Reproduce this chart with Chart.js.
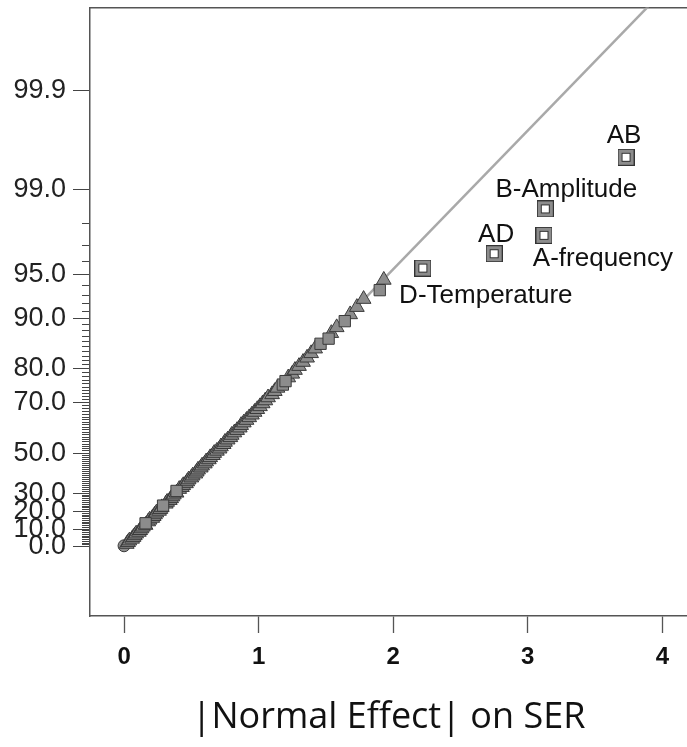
<!DOCTYPE html>
<html>
<head>
<meta charset="utf-8">
<script src="https://cdn.jsdelivr.net/npm/chart.js@4.4.1/dist/chart.umd.min.js"></script>
<style>
  html, body { margin: 0; padding: 0; background: #ffffff; }
  #c { display: block; }
</style>
</head>
<body>
<canvas id="c" width="687" height="747"></canvas>
<script>
// ---------------- DATA ----------------
// Half-normal plot: x = |effect|, y = half-normal probability (%)
const circleEffects  = [0.00];
const circlePercents = [0.50];

// error-estimate terms (triangles)
const errorEffects = [
  0.02,0.03,0.04,0.06,0.07,0.08,0.09,0.11,0.12,0.13,0.14,0.16,
  0.18,0.19,0.21,0.22,0.23,0.24,0.26,0.27,0.28,
  0.31,0.32,0.34,0.35,0.36,0.37,0.39,
  0.41,0.43,0.44,0.46,0.47,0.48,0.50,0.51,0.53,0.54,0.55,0.57,0.58,0.60,0.61,0.63,0.64,0.66,
  0.67,0.69,0.71,0.72,0.74,0.75,0.77,0.79,0.80,0.82,0.84,0.86,0.87,0.89,0.91,0.93,0.95,0.97,
  0.99,1.01,1.03,1.05,1.07,1.10,1.12,1.14,
  1.22,1.25,1.27,1.30,1.33,1.36,1.39,1.42,
  1.54,1.58,
  1.68,1.73,1.78,
  1.93
];
const errorPercents = [
  1.49,2.48,3.47,4.46,5.45,6.44,7.43,8.42,9.41,10.40,11.39,12.38,
  14.36,15.35,16.34,17.33,18.32,19.31,20.30,21.29,22.28,
  24.26,25.25,26.24,27.23,28.22,29.21,30.20,
  32.18,33.17,34.16,35.15,36.14,37.13,38.12,39.11,40.10,41.09,42.08,43.07,44.06,45.05,46.04,47.03,48.02,49.01,
  50.00,50.99,51.98,52.97,53.96,54.95,55.94,56.93,57.92,58.91,59.90,60.89,61.88,62.87,63.86,64.85,65.84,66.83,
  67.82,68.81,69.80,70.79,71.78,72.77,73.76,74.75,
  77.72,78.71,79.70,80.69,81.68,82.67,83.66,84.65,
  87.62,88.61,
  90.59,91.58,92.57,
  94.55
];

// non-significant model terms (grey squares)
const modelEffects  = [0.16, 0.29, 0.39, 1.18, 1.20, 1.46, 1.52, 1.64, 1.90];
const modelPercents = [13.37, 23.27, 31.19, 75.74, 76.73, 85.64, 86.63, 89.60, 93.56];

// significant, labelled terms (open squares)
const sigLabels   = ['D-Temperature', 'AD', 'A-frequency', 'B-Amplitude', 'AB'];
const sigEffects  = [2.22, 2.75, 3.12, 3.13, 3.73];
const sigPercents = [95.54, 96.53, 97.52, 98.51, 99.50];

// reference line (in effect / normal-score units)
const refLineEffects = [0, 4];
const refLineScores  = [0, 4];

// axis ticks
const yTickPercents = [
  0,1,2,3,4,5,6,7,8,9,10,11,12,13,14,15,16,17,18,19,20,21,22,23,24,25,26,27,28,29,
  30,31,32,33,34,35,36,37,38,39,40,41,42,43,44,45,46,47,48,49,50,51,52,53,54,55,56,57,58,59,
  60,61,62,63,64,65,66,67,68,69,70,71,72,73,74,75,76,77,78,79,80,81,82,83,84,85,86,87,88,89,
  90,91,92,93,94,95,96,97,98,99,99.9
];
const yTickLabels = [0, 10, 20, 30, 50, 70, 80, 90, 95, 99, 99.9];
const xTickValues = [0, 1, 2, 3, 4];
const xTitle = '|Normal Effect| on SER';

// ---------------- probability-scale transform ----------------
function probit(p) {
  const a=[-3.969683028665376e+01,2.209460984245205e+02,-2.759285104469687e+02,1.383577518672690e+02,-3.066479806614716e+01,2.506628277459239e+00];
  const b=[-5.447609879822406e+01,1.615858368580409e+02,-1.556989798598866e+02,6.680131188771972e+01,-1.328068155288572e+01];
  const c=[-7.784894002430293e-03,-3.223964580411365e-01,-2.400758277161838e+00,-2.549732539343734e+00,4.374664141464968e+00,2.938163982698783e+00];
  const d=[7.784695709041462e-03,3.224671290700398e-01,2.445134137142996e+00,3.754408661907416e+00];
  const plow=0.02425, phigh=1-plow;
  let q, r;
  if (p < plow) { q=Math.sqrt(-2*Math.log(p)); return (((((c[0]*q+c[1])*q+c[2])*q+c[3])*q+c[4])*q+c[5])/((((d[0]*q+d[1])*q+d[2])*q+d[3])*q+1); }
  if (p <= phigh) { q=p-0.5; r=q*q; return (((((a[0]*r+a[1])*r+a[2])*r+a[3])*r+a[4])*r+a[5])*q/(((((b[0]*r+b[1])*r+b[2])*r+b[3])*r+b[4])*r+1); }
  q=Math.sqrt(-2*Math.log(1-p)); return -(((((c[0]*q+c[1])*q+c[2])*q+c[3])*q+c[4])*q+c[5])/((((d[0]*q+d[1])*q+d[2])*q+d[3])*q+1);
}
// half-normal score of a percentage
function hn(percent) { return percent <= 0 ? 0 : probit(0.5 + percent / 200); }
function toPoints(effects, percents) {
  const n = Math.min(effects.length, percents.length);
  const out = [];
  for (let i = 0; i < n; i++) out.push({ x: effects[i], y: hn(percents[i]) });
  return out;
}

// ---------------- styles ----------------
const FILL = '#8c8c8c', EDGE = '#3a3a3a';
const labelOffsets = [[63, 35], [2, -12], [59, 31], [21, -12], [-2, -14]];

// open square marker
const openSquare = document.createElement('canvas');
openSquare.width = 17; openSquare.height = 17;
(function () {
  const g = openSquare.getContext('2d');
  g.fillStyle = '#333'; g.fillRect(0, 0, 17, 17);
  g.fillStyle = FILL;   g.fillRect(1, 1, 15, 15);
  g.fillStyle = '#333'; g.fillRect(4, 4, 9, 9);
  g.fillStyle = '#fff'; g.fillRect(5, 5, 7, 7);
})();

const labelPlugin = {
  id: 'termLabels',
  afterDatasetsDraw(chart) {
    const meta = chart.getDatasetMeta(0);
    const ctx = chart.ctx;
    ctx.save();
    ctx.font = '26px "Liberation Sans", Arial, sans-serif';
    ctx.fillStyle = '#111';
    ctx.textAlign = 'center';
    ctx.textBaseline = 'alphabetic';
    meta.data.forEach((pt, i) => {
      const o = labelOffsets[i];
      ctx.fillText(sigLabels[i], pt.x + o[0], pt.y + o[1]);
    });
    ctx.restore();
  }
};

const majorSet = new Set(yTickLabels.map(v => v.toFixed(1)));
const isMajor = i => majorSet.has(yTickPercents[i].toFixed(1));
const noEdgePadding = s => { s.paddingTop = 0; s.paddingBottom = 0; s.paddingLeft = 0; s.paddingRight = 0; };

new Chart(document.getElementById('c'), {
  type: 'scatter',
  data: {
    datasets: [
      { label: 'significant', data: toPoints(sigEffects, sigPercents),
        pointStyle: openSquare, pointRadius: 9, order: 0 },
      { label: 'model', data: toPoints(modelEffects, modelPercents),
        pointStyle: 'rect', pointRadius: 8, backgroundColor: FILL, borderColor: EDGE, borderWidth: 1, order: 1 },
      { label: 'error', data: toPoints(errorEffects, errorPercents),
        pointStyle: 'triangle', pointRadius: 8.5, backgroundColor: FILL, borderColor: EDGE, borderWidth: 1, order: 2 },
      { label: 'first', data: toPoints(circleEffects, circlePercents),
        pointStyle: 'circle', pointRadius: 6, backgroundColor: FILL, borderColor: EDGE, borderWidth: 1, order: 3 },
      { label: 'line', data: refLineEffects.map((x, i) => ({ x: x, y: refLineScores[i] })),
        showLine: true, pointRadius: 0, borderColor: '#a9a9a9', borderWidth: 2.5, order: 4 }
    ]
  },
  options: {
    responsive: false,
    animation: false,
    events: [],
    layout: { autoPadding: false, padding: { top: 7.5, left: 0, right: 0, bottom: 0 } },
    plugins: { legend: { display: false }, tooltip: { enabled: false } },
    scales: {
      x: {
        type: 'linear', position: 'bottom',
        min: -0.253, max: 4.183,
        afterBuildTicks: s => { s.ticks = xTickValues.map(v => ({ value: v })); },
        afterFit: s => { s.height = 131; noEdgePadding(s); },
        grid: { drawOnChartArea: false, drawTicks: true, tickLength: 17, tickColor: '#555', tickWidth: 1.3 },
        border: { display: true, color: '#555', width: 1.5 },
        ticks: { padding: 10, maxRotation: 0, autoSkip: false, color: '#111',
                 font: { family: '"Liberation Sans", Arial, sans-serif', size: 24, weight: 'bold' } },
        title: { display: true, text: xTitle, color: '#111',
                 font: { family: '"Open Sans", sans-serif', size: 36 }, padding: { top: 0, bottom: 8 } }
      },
      x2: {
        type: 'linear', position: 'top', min: -0.253, max: 4.183,
        afterFit: s => { s.height = 0; noEdgePadding(s); },
        grid: { display: false, drawTicks: false },
        ticks: { display: false },
        border: { display: true, color: '#555', width: 1.5 }
      },
      y: {
        type: 'linear', position: 'left',
        min: -0.5, max: 3.887,
        afterBuildTicks: s => { s.ticks = yTickPercents.map(p => ({ value: hn(p) })); },
        afterFit: s => { s.width = 90; noEdgePadding(s); },
        grid: {
          drawOnChartArea: false, drawTicks: true, tickLength: 17,
          tickColor: '#444', tickWidth: 1,
          tickBorderDash: ctx => isMajor(ctx.index) ? [] : [0, 9, 20]
        },
        border: { display: true, color: '#555', width: 1.5 },
        ticks: {
          autoSkip: false, padding: 7, color: '#222',
          font: { family: '"Liberation Sans", Arial, sans-serif', size: 27 },
          callback: (v, i) => isMajor(i) ? yTickPercents[i].toFixed(1) : ''
        }
      }
    }
  },
  plugins: [labelPlugin]
});
</script>
</body>
</html>
